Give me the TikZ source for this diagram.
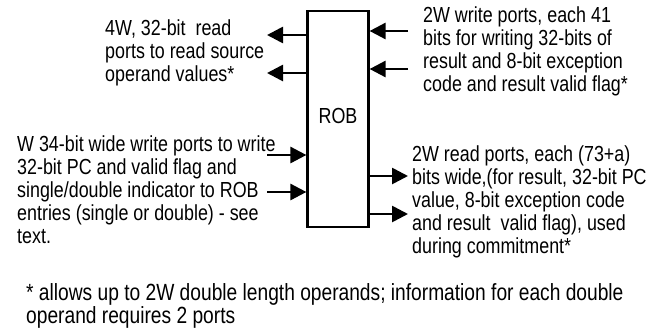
\documentclass[tikz,border=0pt]{standalone}
\usepackage{fontspec}
\setmainfont{Liberation Sans}[FakeStretch=0.82]
\usetikzlibrary{arrows.meta}

\begin{document}
\begin{tikzpicture}[x=1pt, y=-1pt, font=\fontsize{21.8}{23}\selectfont,
  Buffer/.style={draw, line width=2.7pt, minimum width=60.5pt, minimum height=216pt, inner sep=0pt, text depth=7pt},
  Port/.style={-{Triangle[length=16pt, width=16pt]}, line width=2.7pt},
  Label/.style={align=left, anchor=base west, inner sep=0pt}]

\useasboundingbox (0,0) rectangle (658,335);

\node [Buffer] (rob) at (338, 119) {ROB};

\node [Label] (rdsrc) at (105, 81) {4W, 32-bit~ read\\ports to read source\\operand values*};
\node [Label] (wrres) at (423, 91) {2W write ports, each 41\\bits for writing 32-bits of\\result and 8-bit exception\\code and result valid flag*};
\node [Label] (wrpc) at (17, 243) {W 34-bit wide write ports to write\\32-bit PC and valid flag and\\single/double indicator to ROB\\entries (single or double) - see\\text.};
\node [Label] (rdcom) at (412, 253) {2W read ports, each (73+a)\\bits wide,(for result, 32-bit PC\\value, 8-bit exception code\\and result~ valid flag), used\\during commitment*};
\node [Label, font=\fontsize{23.4}{23}\selectfont] (note) at (26, 323) {* allows up to 2W double length operands; information for each double\\operand requires 2 ports};

\foreach \y/\name in {35/rds1, 73/rds2} {
  \coordinate (\name) at (267, \y);
  \draw [Port] (rob.west |- \name) -- (\name);
}
\foreach \y/\name in {155/wrp1, 192/wrp2} {
  \coordinate (\name) at (267, \y);
  \draw [Port] (\name) -- (rob.west |- \name);
}
\foreach \y/\name in {31/wrr1, 69/wrr2} {
  \coordinate (\name) at (408, \y);
  \draw [Port] (\name) -- (rob.east |- \name);
}
\foreach \y/\name in {176/cmt1, 214/cmt2} {
  \coordinate (\name) at (408, \y);
  \draw [Port] (rob.east |- \name) -- (\name);
}
\end{tikzpicture}
\end{document}
